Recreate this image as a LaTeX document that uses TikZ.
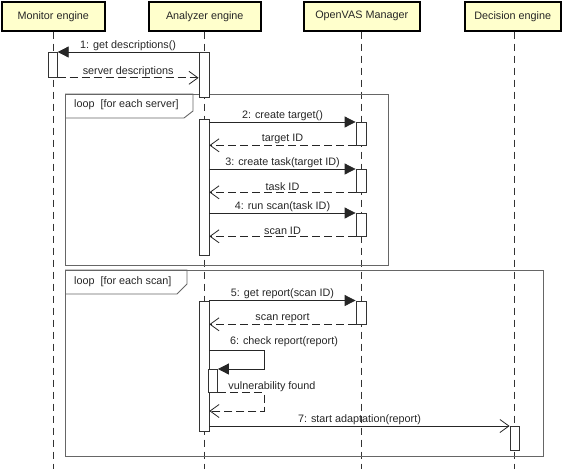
\documentclass[tikz,border=0pt]{standalone}
\usepackage{fontspec}
\setmainfont{Liberation Sans}
\usetikzlibrary{arrows.meta}
\begin{document}
\begin{tikzpicture}[x=1pt,y=-1pt,
  every node/.style={font=\fontsize{10.8}{12}\selectfont, text=black!85},
  header/.style={draw=black, line width=1.5pt, fill={rgb,255:red,255;green,255;blue,204}, minimum height=29pt, inner sep=0pt},
  lifeline/.style={draw=black!80, line width=0.9pt, dash pattern=on 7pt off 5pt},
  act/.style={draw=black!80, fill=white, line width=0.8pt, minimum width=9pt, inner sep=0pt, anchor=north},
  frame/.style={draw=black!60, line width=0.9pt},
  syncmsg/.style={draw=black!85, line width=0.8pt, -{Triangle[length=11pt,width=11pt]}},
  retmsg/.style={draw=black!85, line width=0.8pt, dash pattern=on 8pt off 4pt, -{Straight Barb[length=9pt,width=13pt]}},
  asyncmsg/.style={draw=black!85, line width=0.8pt, -{Straight Barb[length=9pt,width=13pt]}},
  lbl/.style={anchor=south, inner sep=1pt}
]
\useasboundingbox (0,0) rectangle (567,469);
% headers
\node[header, minimum width=103pt, anchor=north west] (hm) at (1,1) {Monitor engine};
\node[header, minimum width=112pt, anchor=north west] (ha) at (148,1) {Analyzer engine};
\node[header, minimum width=116pt, anchor=north west] (ho) at (303,1) {OpenVAS Manager};
\node[header, minimum width=96pt, anchor=north west] (hd) at (464,1) {Decision engine};
% lifeline ends
\coordinate (em) at (53,469);
\coordinate (ea) at (204,469);
\coordinate (eo) at (361,469);
\coordinate (ed) at (514,469);
\draw[lifeline] (hm.south -| em) -- (em);
\draw[lifeline] (ha.south -| ea) -- (ea);
\draw[lifeline] (ho.south -| eo) -- (eo);
\draw[lifeline] (hd.south -| ed) -- (ed);

% loop frames
\draw[frame] (65,94) rectangle (388,265);
\draw[frame] (65,94) -- (193,94) -- (193,111) -- (184,118) -- (65,118);
\node[anchor=west, inner sep=0pt] (l1) at (74,105) {loop\ \ [for each server]};
\draw[frame] (65,270) rectangle (543,456);
\draw[frame] (65,270) -- (187,270) -- (187,284) -- (177,294) -- (65,294);
\node[anchor=west, inner sep=0pt] (l2) at (74,282) {loop\ \ [for each scan]};

% activations
\node[act, minimum width=8.5pt, minimum height=25pt] (mact1) at (53,52) {};
\node[act, minimum width=10pt, minimum height=45pt] (aact1) at (204,52) {};
\node[act, minimum width=10pt, minimum height=136pt] (aact2) at (204,119) {};
\node[act, minimum width=10pt, minimum height=22.5pt] (oact1) at (361,122) {};
\node[act, minimum width=10pt, minimum height=22.5pt] (oact2) at (361,169) {};
\node[act, minimum width=10pt, minimum height=22.5pt] (oact3) at (361,213) {};
\node[act, minimum width=10pt, minimum height=130.5pt] (aact3) at (204,300.5) {};
\node[act, minimum width=10pt, minimum height=23pt] (oact4) at (361,300.5) {};
\node[act, minimum width=9pt, minimum height=23pt] (aact4) at (213,369) {};
\node[act, minimum width=9pt, minimum height=24pt] (dact1) at (514.5,426) {};

% message 1
\draw[syncmsg] (aact1.north west) -- node[lbl]{1: get descriptions()} (mact1.north east);
\draw[retmsg] (mact1.south east) -- node[lbl]{server descriptions} (aact1.north west |- mact1.south);
% loop 1 messages
\draw[syncmsg] (oact1.north west -| aact2.east) -- node[lbl]{2: create target()} (oact1.north west);
\draw[retmsg] (oact1.south west) -- node[lbl]{target ID} (oact1.south west -| aact2.east);
\draw[syncmsg] (oact2.north west -| aact2.east) -- node[lbl]{3: create task(target ID)} (oact2.north west);
\draw[retmsg] (oact2.south west) -- node[lbl]{task ID} (oact2.south west -| aact2.east);
\draw[syncmsg] (oact3.north west -| aact2.east) -- node[lbl]{4: run scan(task ID)} (oact3.north west);
\draw[retmsg] (oact3.south west) -- node[lbl]{scan ID} (oact3.south west -| aact2.east);
% loop 2 messages
\draw[syncmsg] (aact3.north east) -- node[lbl]{5: get report(scan ID)} (oact4.north west);
\draw[retmsg] (oact4.south west) -- node[lbl]{scan report} (oact4.south west -| aact3.east);
\coordinate (s1) at (209,350);
\coordinate (s2) at (264,350);
\draw[syncmsg] (s1) -- (s2) -- (s2 |- aact4.north) -- (aact4.north east);
\node[lbl] (l6) at (284,348) {6: check report(report)};
\coordinate (r1) at (264,411);
\draw[retmsg] (aact4.south east) -- (r1 |- aact4.south) -- (r1) -- (r1 -| aact3.east);
\node[lbl, anchor=base] (lv) at (272,389) {vulnerability found};
\draw[asyncmsg] (dact1.north west -| aact3.east) -- node[lbl]{7: start adaptation(report)} (dact1.north west);
\end{tikzpicture}
\end{document}
